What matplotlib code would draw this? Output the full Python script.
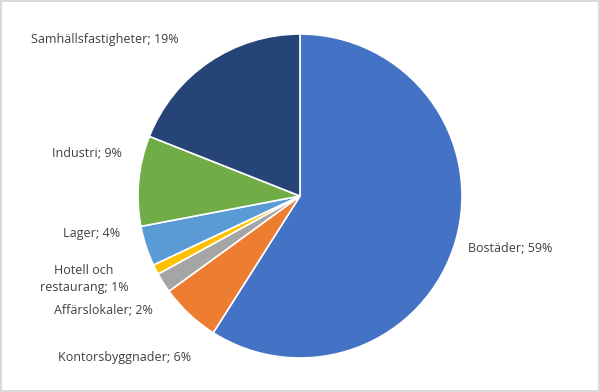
import matplotlib
matplotlib.use("Agg")
import matplotlib.pyplot as plt

# data
categories = ["Bostäder", "Kontorsbyggnader", "Affärslokaler", "Hotell och\nrestaurang",
              "Lager", "Industri", "Samhällsfastigheter"]
shares = [59, 6, 2, 1, 4, 9, 19]
colors = ["#4472C4", "#ED7D31", "#A5A5A5", "#FFC000", "#5B9BD5", "#70AD47", "#264478"]

# label centres in pixels (x, y from top)
label_pos = [(510, 249), (125, 358), (103, 311), (84, 279), (92, 233), (87, 153), (105, 39)]

plt.rcParams["font.family"] = ["Open Sans", "DejaVu Sans"]

W, H = 600, 392
fig = plt.figure(figsize=(W / 100, H / 100), dpi=100)
fig.patch.set_edgecolor("#D9D9D9")
fig.patch.set_linewidth(1.5)

cx, cy, r = 300, 196, 162
ax = fig.add_axes([(cx - r) / W, (H - cy - r) / H, 2 * r / W, 2 * r / H])
ax.pie(shares, colors=colors, startangle=90, counterclock=False, radius=1,
       wedgeprops=dict(edgecolor="white", linewidth=1.2))
ax.set_xlim(-1, 1)
ax.set_ylim(-1, 1)
ax.set_aspect("equal")
ax.axis("off")

for name, val, (px, py) in zip(categories, shares, label_pos):
    fig.text(px / W, 1 - py / H, f"{name}; {val}%", ha="center", va="center",
             fontsize=9, color="#404040", linespacing=1.3)

fig.savefig("out.png", dpi=100)
